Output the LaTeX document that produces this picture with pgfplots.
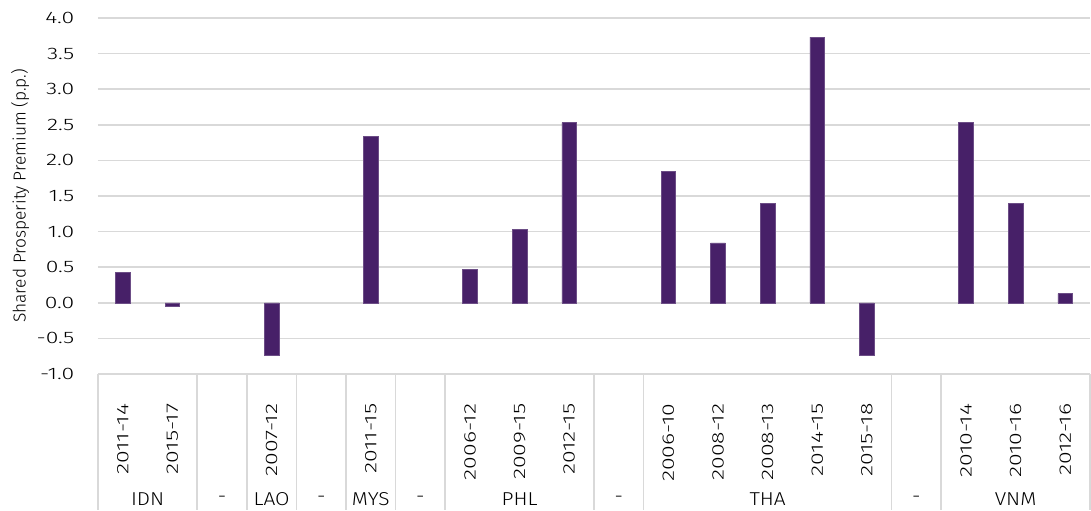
\documentclass[border=0pt]{standalone}
\usepackage{pgfplots}
\pgfplotsset{compat=1.18}
\usepackage{fontspec}
\setmainfont{Fira Sans Light}
\newfontfamily\numfont{Fira Sans Light}[FakeStretch=1.38]
\newfontfamily\grpfont{Fira Sans Light}[FakeStretch=1.12]
\definecolor{barc}{HTML}{472068}
\definecolor{gridc}{HTML}{D9D9D9}
\begin{document}
\begin{tikzpicture}[x=0.75pt,y=0.75pt]
\useasboundingbox (-98,-136) rectangle (993,374);
\begin{axis}[
  at={(0,0)}, anchor=south west,
  scale only axis, width=744pt, height=267pt,
  xmin=-0.5, xmax=19.5, ymin=-1, ymax=4,
  ytick={-1,-0.5,...,4},
  xtick={0,...,19},
  xticklabels={2011-14,2015-17,,2007-12,,2011-15,,2006-12,2009-15,2012-15,,2006-10,2008-12,2008-13,2014-15,2015-18,,2010-14,2010-16,2012-16},
  xticklabel style={rotate=90, anchor=east, inner sep=0pt, font=\numfont\fontsize{12.5pt}{14pt}\selectfont},
  xticklabel shift=22pt,
  yticklabel style={anchor=east, inner sep=0pt, font=\numfont\fontsize{12.5pt}{14pt}\selectfont},
  yticklabel shift=17.5pt,
  major tick length=0pt,
  axis line style={draw=none},
  ymajorgrids, grid style={draw=gridc, line width=1.3pt},
  /pgf/number format/assume math mode=true,
  yticklabel={\pgfmathprintnumber[fixed,fixed zerofill,precision=1]{\tick}},
  ylabel={Shared Prosperity Premium (p.p.)},
  ylabel style={at={(axis description cs:-0.0786,0.5)}, anchor=center, font=\fontsize{13pt}{14pt}\selectfont},
  clip=false,
]
\addplot[ybar, bar width=11pt, fill=barc, draw=barc!80!white, line width=0.4pt] coordinates {
 (0,0.43) (1,-0.05) (3,-0.73) (5,2.34) (7,0.47) (8,1.03) (9,2.53)
 (11,1.85) (12,0.84) (13,1.40) (14,3.73) (15,-0.73)
 (17,2.53) (18,1.40) (19,0.13)};
\foreach \s in {-0.5,1.5,2.5,3.5,4.5,5.5,6.5,9.5,10.5,15.5,16.5,19.5}{
  \edef\temp{\noexpand\draw[gridc, line width=1.3pt] (axis cs:\s,-1) -- ([yshift=-102pt]axis cs:\s,-1);}
  \temp
}
\draw[gridc, line width=1.3pt] (axis cs:-0.5,-1) -- (axis cs:19.5,-1);
\foreach \x/\t in {0.5/IDN,2/-,3/LAO,4/-,5/MYS,6/-,8/PHL,10/-,13/THA,16/-,18/VNM}{
  \edef\temp{\noexpand\node[font=\noexpand\grpfont\noexpand\fontsize{14pt}{15pt}\noexpand\selectfont, anchor=center] at ([yshift=-94pt]axis cs:\x,-1) {\t};}
  \temp
}
\end{axis}
\end{tikzpicture}
\end{document}
